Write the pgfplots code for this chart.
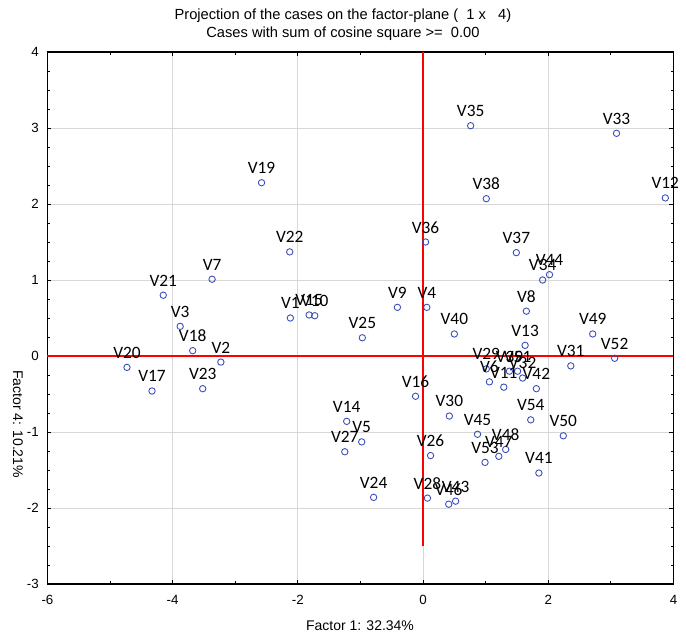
\documentclass[border=0pt]{standalone}
\usepackage{pgfplots}
\pgfplotsset{compat=1.18}
\usepackage{pgfplotstable}
\usepackage{fontspec}
\setmainfont{Liberation Sans}
\newfontfamily\labfont{Carlito}
\definecolor{ptblue}{RGB}{55,75,185}
\definecolor{gridgray}{RGB}{215,215,215}
\pgfplotstableread{
x y label
-2.12 0.50 V1
-3.23 -0.08 V2
-3.88 0.39 V3
0.06 0.64 V4
-0.98 -1.13 V5
1.06 -0.34 V6
-3.37 1.01 V7
1.65 0.59 V8
-0.41 0.64 V9
-1.73 0.53 V10
1.29 -0.41 V11
3.87 2.08 V12
1.63 0.14 V13
-1.22 -0.86 V14
-1.82 0.54 V15
-0.12 -0.53 V16
-4.33 -0.46 V17
-3.68 0.07 V18
-2.58 2.28 V19
-4.73 -0.15 V20
-4.15 0.80 V21
-2.13 1.37 V22
-3.52 -0.43 V23
-0.79 -1.86 V24
-0.97 0.24 V25
0.12 -1.31 V26
-1.25 -1.26 V27
0.07 -1.87 V28
1.01 -0.17 V29
0.42 -0.79 V30
2.36 -0.13 V31
1.59 -0.29 V32
3.09 2.93 V33
1.91 1.00 V34
0.76 3.03 V35
0.04 1.50 V36
1.49 1.36 V37
1.01 2.07 V38
1.38 -0.20 V39
0.50 0.29 V40
1.85 -1.54 V41
1.81 -0.43 V42
0.52 -1.91 V43
2.02 1.07 V44
0.87 -1.03 V45
0.41 -1.95 V46
1.21 -1.32 V47
1.32 -1.23 V48
2.71 0.29 V49
2.24 -1.05 V50
1.51 -0.20 V51
3.06 -0.03 V52
0.99 -1.40 V53
1.72 -0.84 V54
}\pts
\begin{document}
\begin{tikzpicture}
\useasboundingbox (-35.6pt,-39pt) rectangle (478.9pt,438pt);
\begin{axis}[
  at={(0,0)}, anchor=south west,
  width=469.5pt, height=399pt, scale only axis,
  xmin=-6, xmax=4, ymin=-3, ymax=4,
  xtick={-6,-4,...,4}, ytick={-3,-2,...,4},
  minor x tick num=1, minor y tick num=3,
  tick align=inside,
  major tick length=3pt, minor tick length=2pt,
  grid=major, major grid style={gridgray, line width=0.7pt},
  axis line style={black, line width=0.9pt},
  tick style={black, line width=0.6pt},
  ticklabel style={font=\fontsize{10}{12}\selectfont},
  /pgf/number format/assume math mode=true,
  xticklabel style={yshift=-5pt},
  yticklabel style={xshift=-3pt},
  clip=false,
]
\addplot[red, line width=1pt] coordinates {(-6,0) (4,0)};
\addplot[red, line width=1pt] coordinates {(0,-2.5) (0,4)};
\addplot[only marks, mark=o, mark size=2.4pt, ptblue, mark options={line width=0.65pt}] table[x=x,y=y] {\pts};
\addplot[only marks, mark=none, nodes near coords, point meta=explicit symbolic,
  every node near coord/.append style={anchor=center, yshift=11pt, font=\labfont\fontsize{13}{15}\selectfont, text=black}]
  table[x=x,y=y,meta=label] {\pts};
\end{axis}
\node[font=\fontsize{11}{13}\selectfont] at (221.6pt,426pt) {Projection of the cases on the factor-plane (\ \ 1 x \ \ 4)};
\node[font=\fontsize{11}{13}\selectfont] at (221.6pt,412.5pt) {Cases with sum of cosine square >= \ 0.00};
\node[font=\fontsize{10.5}{12}\selectfont] at (234.4pt,-31.5pt) {Factor 1: 32.34\%};
\node[font=\fontsize{10.5}{12}\selectfont, rotate=-90] at (-22.1pt,120pt) {Factor 4: 10.21\%};
\end{tikzpicture}
\end{document}
